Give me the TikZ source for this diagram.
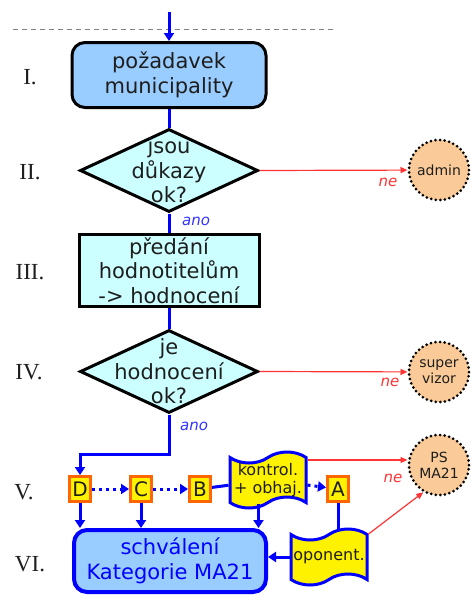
\documentclass[tikz,border=0pt]{standalone}
\usepackage{fontspec}
\setmainfont{DejaVu Sans}
\newfontfamily\romfont{Liberation Serif}
\usetikzlibrary{shapes.geometric,shapes.symbols,arrows.meta,backgrounds}

\definecolor{lblue}{HTML}{99CCFF}
\definecolor{lcyan}{HTML}{CCFFFF}
\definecolor{lorange}{HTML}{FACB98}
\definecolor{tagorange}{HTML}{FF6600}
\definecolor{nored}{HTML}{FF3333}
\definecolor{anoblue}{HTML}{3333FF}
\definecolor{ink}{HTML}{1E1E1E}

\tikzset{
  bigtxt/.style={font=\fontsize{21}{24.5}\selectfont, text=ink, align=center},
  stage/.style={font=\romfont\fontsize{23}{25}\selectfont, text=ink},
  startbox/.style={bigtxt, draw=black, fill=lblue, line width=3pt, rounded corners=13pt,
    minimum width=194pt, minimum height=65pt, inner sep=0pt},
  procbox/.style={bigtxt, draw=black, fill=lcyan, line width=3pt,
    minimum width=180pt, minimum height=72pt, inner sep=0pt},
  decision/.style={diamond, draw=black, fill=lcyan, line width=3pt,
    minimum width=178pt, minimum height=83pt, inner sep=0pt},
  finalbox/.style={bigtxt, text=blue, draw=blue, fill=lblue, line width=4pt, rounded corners=13pt,
    minimum width=192pt, minimum height=62pt, inner sep=0pt},
  extbox/.style={circle, draw=black, fill=lorange, line width=3pt, line cap=round,
    dash pattern=on 0pt off 4.6pt, minimum size=60pt, inner sep=0pt,
    font=\fontsize{14}{16}\selectfont, text=ink, align=center},
  tagbox/.style={draw=tagorange, fill=yellow, line width=3pt, minimum width=21pt,
    minimum height=25pt, inner sep=0pt, font=\fontsize{20}{22}\selectfont, text=ink},
  docbox/.style={tape, tape bend height=11pt, draw=blue, fill=yellow, line width=3pt,
    minimum width=76pt, minimum height=56pt, inner sep=0pt, align=center,
    font=\fontsize{16}{18}\selectfont, text=ink},
  flow/.style={blue, line width=3pt},
  flowarr/.style={flow, -{Triangle[length=8pt,width=10pt]}},
  dotarr/.style={flow, dash pattern=on 3pt off 4pt, -{Triangle[length=8pt,width=10pt]}},
  noarr/.style={nored, line width=1.2pt, -{Triangle[length=7pt,width=6pt]}},
  yes/.style={font=\fontsize{15}{17}\selectfont\itshape, text=anoblue},
  no/.style={font=\fontsize{15}{17}\selectfont\itshape, text=nored},
}

\begin{document}
\begin{tikzpicture}[x=1pt, y=-1pt]
    \useasboundingbox (0,0) rectangle (471,595);

    % stages
    \node[stage] (st1) at (30,77) {I.};
    \node[stage] (st2) at (30,172) {II.};
    \node[stage] (st3) at (30,272) {III.};
    \node[stage] (st4) at (29,372) {IV.};
    \node[stage] (st5) at (24,492) {V.};
    \node[stage] (st6) at (30,564) {VI.};

    \draw[gray, line width=0.8pt, dash pattern=on 5pt off 4pt] (13,29) -- (334,29);

    % main column
    \node[startbox] (req) at (169,75) {požadavek\\municipality};
    \node[decision, label={[bigtxt]center:jsou\\důkazy\\ok?}] (d1) at (169,170.5) {};
    \node[procbox] (hand) at (169,270.5) {předání\\hodnotitelům\\-> hodnocení};
    \node[decision, label={[bigtxt]center:je\\hodnocení\\ok?}] (d2) at (169,371.5) {};

    % outside
    \node[extbox] (admin) at (439,170) {admin};
    \node[extbox] (visor) at (439,372) {super\\vizor};
    \node[extbox] (psma) at (439,465) {PS\\MA21};

    % row V
    \node[tagbox] (D) at (80,489) {D};
    \node[tagbox] (C) at (141,489) {C};
    \node[tagbox] (B) at (200,489) {B};
    \node[docbox] (kontrol) at (268,480) {kontrol.\\+ obhaj.};
    \node[tagbox] (A) at (338,489) {A};

    % row VI
    \node[finalbox] (appr) at (170,561) {schválení\\Kategorie MA21};
    \node[docbox] (opon) at (329,557) {oponent.};

    \coordinate (top) at (169,12);
    \coordinate (split) at (169,454);

    \draw[flowarr] (top) -- (req.north);
    \begin{scope}[on background layer]
        \draw[flow] (req.south) -- (d1.north);
        \draw[flow] (d1.south) -- (hand.north);
        \draw[flow] (hand.south) -- (d2.north);
        \draw[flow] (A.south) -- (A |- opon.center);
        \draw[flow] (B) -- (kontrol);
    \end{scope}
    \draw[flowarr] (d2.south) -- (split) -| (D.north);

    \draw[dotarr] (D) -- (C);
    \draw[dotarr] (C) -- (B);
    \draw[dotarr] (kontrol) -- (A);

    \draw[flowarr] (D) -- (D |- appr.north);
    \draw[flowarr] (C) -- (C |- appr.north);
    \draw[flowarr] ([xshift=-9.5pt]kontrol.south) -- ([xshift=-9.5pt]kontrol.south |- appr.north);
    \draw[flowarr] (opon.west) -- (opon.west -| appr.east);

    % ne / ano
    \draw[noarr] (d1.east) -- (admin);
    \draw[noarr] (d2.east) -- (visor);
    \draw[noarr] ([yshift=20pt]kontrol.east) -- ([yshift=20pt]kontrol.east -| psma.west);
    \draw[noarr] (opon.north east) -- (psma.240);

    \node[no] (ne1) at (388,182) {ne};
    \node[no] (ne2) at (390,382) {ne};
    \node[no] (ne3) at (393,478) {ne};
    \node[yes] (ano1) at (196,221) {ano};
    \node[yes] (ano2) at (194,426) {ano};
\end{tikzpicture}
\end{document}
